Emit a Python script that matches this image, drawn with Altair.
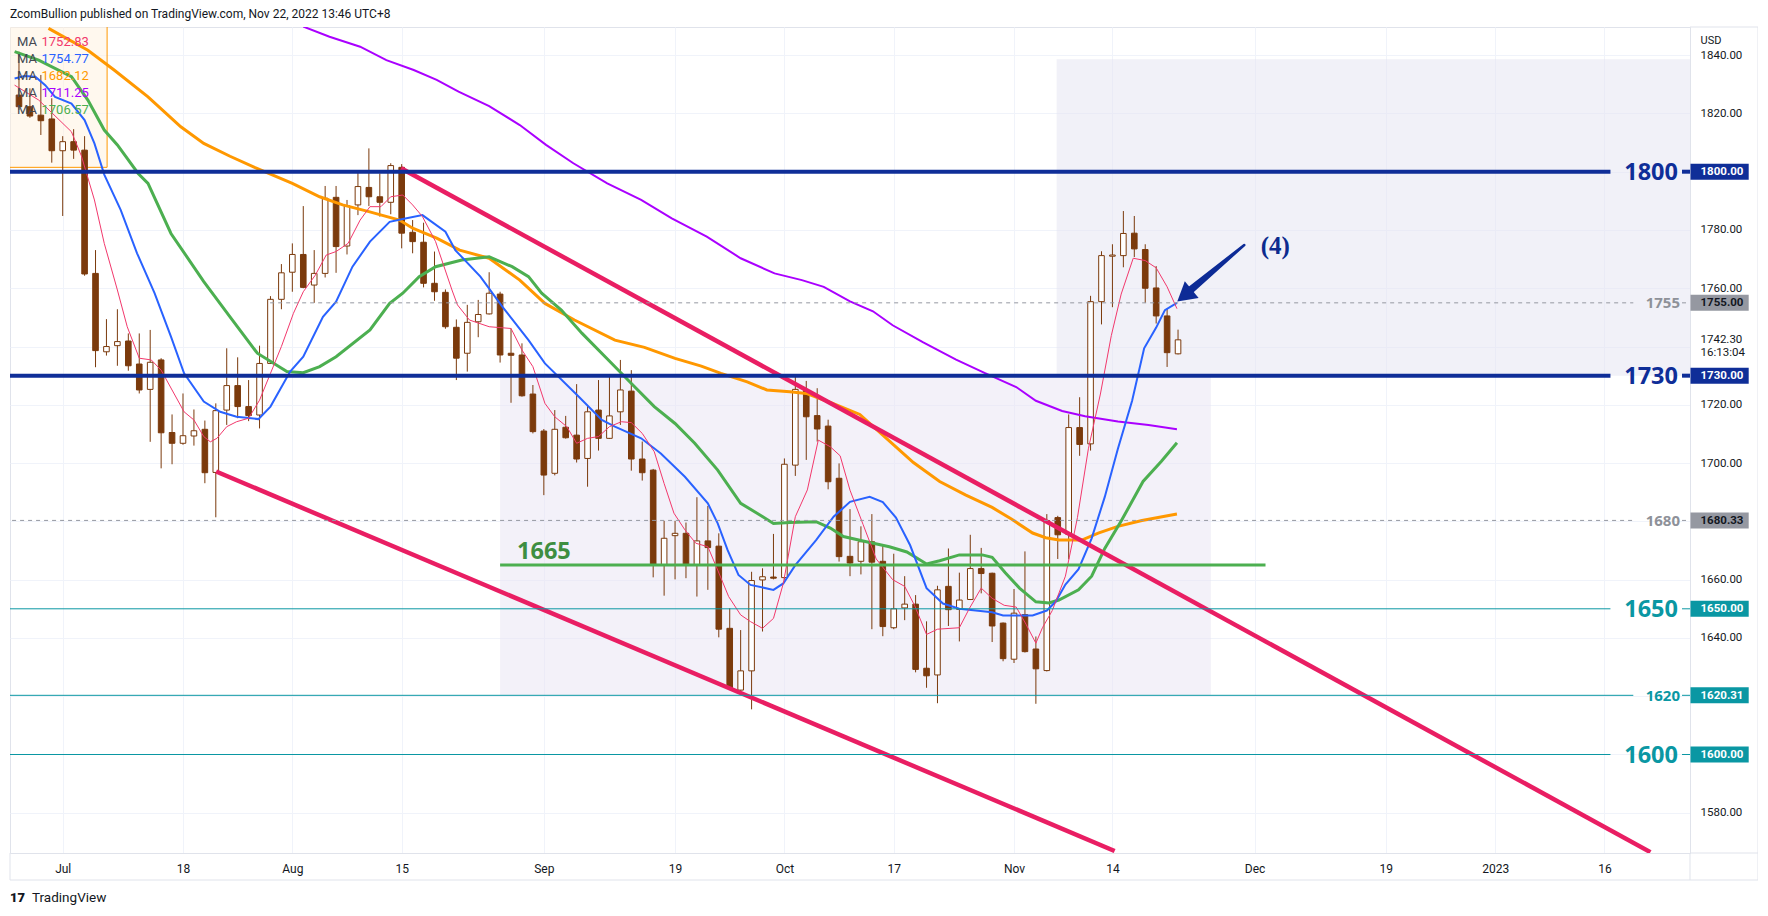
import altair as alt
import pandas as pd

# ---------------- values ----------------
# bar index: 0 = 1 Jul 2022, one step per trading day (weekends skipped)
bar_idx = list(range(-4, 103))
opens = [1826.3, 1822.3, 1819.4, 1818.1, 1807.2, 1810.3, 1807.4, 1765.1, 1738.2, 1740.3,
         1741.9, 1734.0, 1725.3, 1735.4, 1710.5, 1706.8, 1709.3, 1711.6, 1696.8, 1718.2,
         1726.6, 1719.4, 1716.5, 1734.2, 1756.2, 1765.5, 1771.6, 1761.1, 1765.1, 1791.2,
         1774.5, 1788.6, 1794.6, 1791.4, 1789.5, 1801.5, 1779.2, 1775.8, 1761.7, 1758.6,
         1746.6, 1737.7, 1748.5, 1751.2, 1758.0, 1737.7, 1737.1, 1723.7, 1711.0, 1696.5,
         1712.3, 1709.6, 1701.6, 1718.2, 1708.5, 1717.6, 1724.7, 1701.4, 1697.6, 1665.0,
         1675.1, 1675.9, 1665.0, 1673.3, 1671.5, 1643.3, 1622.1, 1628.7, 1659.9, 1660.9,
         1660.7, 1699.3, 1725.1, 1716.3, 1712.7, 1694.8, 1668.0, 1666.3, 1673.0, 1666.3,
         1643.5, 1650.3, 1651.6, 1629.6, 1627.3, 1657.7, 1649.8, 1653.2, 1663.8, 1662.2,
         1645.1, 1632.7, 1648.0, 1636.2, 1628.8, 1681.3, 1675.5, 1712.2, 1706.6, 1755.4,
         1771.0, 1771.2, 1778.9, 1773.3, 1760.1, 1750.5, 1737.5]
highs = [1841.2, 1828.6, 1833.2, 1825.2, 1812.2, 1814.6, 1812.2, 1773.1, 1749.4, 1752.8,
         1744.5, 1744.5, 1745.7, 1736.0, 1716.7, 1723.9, 1718.4, 1714.6, 1720.5, 1739.4,
         1736.3, 1728.5, 1740.3, 1757.3, 1768.3, 1775.4, 1788.2, 1773.1, 1795.1, 1795.1,
         1790.3, 1799.7, 1808.0, 1799.4, 1802.9, 1802.6, 1783.4, 1782.5, 1772.6, 1759.6,
         1749.3, 1754.3, 1756.0, 1765.5, 1758.8, 1746.2, 1741.1, 1726.8, 1711.7, 1718.2,
         1716.2, 1727.1, 1719.7, 1728.5, 1729.9, 1735.4, 1731.9, 1707.4, 1698.0, 1680.2,
         1680.2, 1679.6, 1688.3, 1685.3, 1675.9, 1650.2, 1642.7, 1662.7, 1663.9, 1675.7,
         1701.6, 1729.7, 1728.2, 1725.7, 1714.9, 1699.9, 1684.2, 1678.3, 1682.5, 1671.9,
         1668.9, 1661.2, 1654.7, 1645.7, 1657.9, 1670.7, 1662.4, 1675.4, 1670.9, 1662.4,
         1645.3, 1656.8, 1669.7, 1640.5, 1682.5, 1681.9, 1716.7, 1722.6, 1757.4, 1772.7,
         1775.1, 1786.5, 1784.8, 1775.1, 1767.6, 1753.0, 1745.8]
lows = [1821.2, 1818.5, 1812.6, 1803.1, 1784.8, 1804.4, 1764.3, 1732.9, 1736.9, 1733.4,
        1731.7, 1723.9, 1707.3, 1698.2, 1699.6, 1706.3, 1706.0, 1693.1, 1681.4, 1713.1,
        1715.4, 1714.4, 1711.9, 1734.0, 1752.8, 1758.8, 1760.0, 1755.0, 1763.7, 1765.3,
        1771.6, 1785.1, 1788.2, 1784.6, 1785.4, 1773.7, 1772.0, 1760.3, 1755.7, 1746.1,
        1728.5, 1731.4, 1743.2, 1751.0, 1734.5, 1720.7, 1722.8, 1710.2, 1689.0, 1695.8,
        1708.4, 1700.2, 1691.9, 1704.3, 1708.3, 1713.1, 1697.4, 1694.0, 1660.8, 1654.5,
        1660.1, 1660.5, 1654.2, 1656.5, 1640.2, 1622.1, 1621.8, 1615.5, 1642.2, 1660.1,
        1660.0, 1695.6, 1701.1, 1707.4, 1691.0, 1666.2, 1661.2, 1661.8, 1643.0, 1640.6,
        1643.0, 1646.1, 1628.2, 1622.9, 1617.6, 1644.1, 1638.8, 1653.0, 1655.3, 1638.6,
        1632.0, 1631.4, 1635.0, 1617.4, 1628.5, 1667.1, 1667.0, 1702.5, 1704.3, 1747.6,
        1753.5, 1767.2, 1770.7, 1755.0, 1747.9, 1733.0, 1737.3]
closes = [1822.3, 1819.1, 1817.5, 1807.2, 1810.3, 1807.4, 1764.9, 1738.6, 1740.0, 1741.7,
          1733.4, 1725.1, 1734.6, 1710.4, 1706.8, 1709.4, 1711.1, 1696.7, 1718.0, 1726.6,
          1719.4, 1716.3, 1734.2, 1756.2, 1765.3, 1771.6, 1760.3, 1765.1, 1790.9, 1774.3,
          1788.3, 1794.9, 1791.4, 1789.5, 1802.1, 1778.9, 1776.0, 1761.7, 1758.8, 1746.8,
          1736.0, 1748.3, 1751.0, 1758.3, 1737.1, 1737.0, 1723.1, 1710.8, 1695.9, 1711.6,
          1708.7, 1701.4, 1717.6, 1708.5, 1716.2, 1725.1, 1701.4, 1696.7, 1665.0, 1674.2,
          1675.9, 1665.0, 1673.3, 1671.0, 1643.0, 1622.7, 1628.7, 1659.7, 1661.0, 1660.5,
          1699.6, 1725.3, 1715.9, 1711.7, 1693.6, 1667.9, 1665.7, 1673.0, 1666.0, 1643.9,
          1650.0, 1651.6, 1629.2, 1627.0, 1656.5, 1649.7, 1653.0, 1663.8, 1662.1, 1644.1,
          1632.9, 1648.5, 1635.3, 1629.4, 1680.3, 1675.4, 1712.2, 1706.4, 1755.4, 1771.2,
          1771.4, 1778.8, 1773.5, 1760.0, 1750.5, 1737.9, 1742.3]

tick_idx = [0, 11, 21, 31, 44, 56, 66, 76, 87, 96, 109, 121, 131, 141]
tick_lab = ["Jul", "18", "Aug", "15", "Sep", "19", "Oct", "17", "Nov", "14", "Dec", "19", "2023", "16"]

price_ticks = list(range(1580, 1841, 20))
hidden_ticks = [1600, 1620, 1680, 1740, 1800]

# moving averages (index, value)
pink_i = [-4.4, -2.2, 0.8, 1.7, 2.9, 3.8, 5.0, 5.9, 7.0, 8.1, 9.0, 11.1, 12.0, 12.9, 13.5, 14.1,
          15.0, 15.9, 17.0, 18.0, 19.0, 20.0, 21.1, 22.0, 23.1, 24.1, 25.0, 26.1, 27.2, 28.1,
          29.1, 30.0, 31.1, 32.0, 32.9, 34.1, 35.6, 36.1, 37.2, 39.0, 41.0, 42.0, 43.0, 44.1,
          45.0, 46.1, 47.0, 48.0, 49.0, 50.0, 51.1, 52.0, 53.0, 54.1, 55.0, 55.9, 56.9, 57.9,
          59.0, 59.9, 60.9, 62.0, 62.9, 64.0, 65.0, 65.9, 67.0, 68.1, 69.1, 70.2, 71.1, 72.0,
          73.2, 74.4, 75.9, 77.0, 77.9, 79.0, 80.0, 82.0, 82.9, 84.0, 85.0, 86.1, 87.2, 88.1,
          89.0, 89.6, 90.5, 91.7, 92.8, 93.8, 94.9, 95.9, 96.8, 97.9, 99.0, 100.0, 101.0, 101.9]
pink_v = [1829.7, 1824.6, 1813.7, 1805.5, 1790.3, 1775.4, 1759.4, 1746.8, 1736.0, 1735.4, 1731.9,
          1717.6, 1714.8, 1709.1, 1707.3, 1708.5, 1712.5, 1714.2, 1715.4, 1721.6, 1730.8, 1740.0,
          1751.4, 1758.8, 1764.5, 1771.4, 1772.6, 1775.4, 1783.4, 1788.0, 1788.0, 1791.4, 1792.0,
          1788.6, 1784.6, 1776.0, 1759.4, 1754.3, 1749.1, 1746.8, 1746.2, 1738.8, 1733.1, 1720.5,
          1715.9, 1712.5, 1706.8, 1708.5, 1709.1, 1712.5, 1714.2, 1713.9, 1710.2, 1703.9, 1693.0,
          1682.8, 1677.1, 1672.5, 1671.3, 1663.3, 1654.2, 1647.9, 1645.6, 1643.3, 1646.7, 1658.7,
          1681.6, 1690.8, 1707.9, 1705.6, 1702.5, 1690.7, 1678.9, 1667.1, 1660.0, 1657.7, 1651.2,
          1641.2, 1643.0, 1643.5, 1650.0, 1657.1, 1653.6, 1651.2, 1650.6, 1644.7, 1638.2, 1643.5,
          1649.4, 1661.2, 1681.3, 1704.9, 1723.7, 1743.8, 1758.0, 1770.3, 1769.5, 1767.0, 1760.5,
          1753.0]
blue_i = [-4.4, -3.5, -2.5, -1.6, -0.7, 0.8, 2.0, 2.9, 3.8, 5.3, 6.8, 8.4, 9.9, 11.1, 12.9, 14.4,
          15.9, 17.9, 19.0, 20.8, 22.0, 23.8, 25.0, 26.5, 28.1, 29.9, 31.1, 32.9, 35.0, 35.9,
          38.2, 40.2, 42.6, 44.1, 47.2, 49.3, 50.5, 52.9, 54.7, 56.9, 59.0, 59.9, 60.8, 61.8,
          62.9, 65.0, 65.9, 67.0, 68.9, 70.5, 72.0, 73.8, 75.0, 76.2, 77.5, 79.0, 80.5, 82.0,
          85.0, 86.0, 88.7, 90.0, 90.8, 91.7, 92.9, 94.1, 95.3, 96.5, 97.8, 98.9, 100.0, 100.8,
          101.9]
blue_v = [1832.0, 1832.8, 1832.6, 1829.7, 1825.7, 1823.4, 1817.7, 1809.7, 1799.0, 1786.9, 1772.0,
          1758.3, 1743.4, 1730.8, 1721.1, 1717.6, 1715.9, 1715.1, 1719.4, 1731.4, 1736.5, 1750.2,
          1755.4, 1767.4, 1776.0, 1782.8, 1783.8, 1785.1, 1779.4, 1773.1, 1764.0, 1753.7, 1742.2,
          1734.2, 1722.8, 1714.8, 1712.5, 1708.5, 1703.3, 1695.3, 1686.2, 1679.3, 1670.2, 1661.6,
          1658.2, 1656.5, 1658.7, 1665.0, 1673.6, 1681.6, 1686.7, 1688.4, 1686.6, 1681.3, 1671.8,
          1657.1, 1651.8, 1650.0, 1648.8, 1647.7, 1647.7, 1649.4, 1652.4, 1658.3, 1663.6, 1674.2,
          1688.4, 1704.9, 1721.4, 1739.4, 1746.5, 1752.5, 1755.0]
green_i = [-4.4, -2.2, 0.8, 2.3, 3.8, 5.0, 6.9, 7.8, 9.9, 12.9, 15.3, 17.8, 20.5, 22.0, 23.5, 25.0,
           28.1, 29.9, 31.1, 32.6, 34.1, 36.5, 39.0, 41.1, 42.6, 43.8, 45.6, 47.5, 49.9, 52.3,
           54.1, 56.0, 57.8, 59.9, 62.0, 63.5, 65.0, 66.5, 68.9, 70.2, 71.4, 73.5, 75.6, 77.2,
           79.0, 80.2, 82.0, 84.1, 85.0, 86.2, 87.5, 89.0, 90.2, 91.1, 92.9, 94.1, 95.3, 96.8,
           98.8, 100.5, 101.9]
green_v = [1841.2, 1838.3, 1832.6, 1824.6, 1814.3, 1809.2, 1799.4, 1796.0, 1778.8, 1762.3, 1750.2,
           1737.7, 1731.4, 1731.0, 1733.1, 1736.5, 1745.7, 1754.8, 1758.3, 1764.0, 1767.4, 1769.7,
           1770.8, 1767.4, 1764.0, 1758.3, 1752.5, 1744.5, 1735.4, 1726.2, 1719.4, 1713.6, 1706.8,
           1697.6, 1686.2, 1682.8, 1679.3, 1679.6, 1679.9, 1677.7, 1674.8, 1673.0, 1671.3, 1669.5,
           1665.4, 1666.5, 1668.5, 1668.5, 1667.7, 1662.4, 1657.1, 1652.4, 1652.0, 1653.0, 1656.5,
           1661.2, 1670.7, 1680.1, 1693.7, 1700.7, 1707.0]
orange_i = [-1.3, 2.3, 4.7, 7.8, 10.8, 12.9, 15.3, 17.6, 21.0, 23.5, 25.6, 28.0, 30.8, 32.0, 34.2,
            36.3, 39.0, 41.8, 44.1, 46.8, 50.5, 53.2, 56.0, 58.4, 60.2, 62.6, 64.4, 66.5, 68.0,
            70.2, 72.9, 75.0, 77.8, 80.2, 82.6, 85.0, 86.8, 88.7, 89.9, 91.1, 93.2, 94.7, 96.5,
            98.7, 101.9]
orange_v = [1849.2, 1841.7, 1834.9, 1825.7, 1815.4, 1809.7, 1805.3, 1801.4, 1796.0, 1791.4, 1788.6,
            1786.3, 1783.4, 1780.6, 1777.2, 1773.1, 1770.3, 1762.8, 1754.8, 1749.1, 1742.2, 1739.7,
            1735.95, 1733.3, 1730.8, 1727.9, 1725.1, 1724.5, 1723.9, 1720.8, 1716.7, 1709.6,
            1700.2, 1693.7, 1689.0, 1684.8, 1680.7, 1676.0, 1674.4, 1673.6, 1673.6, 1676.0,
            1678.3, 1680.3, 1682.5]
purple_i = [22.0, 24.4, 27.2, 29.6, 32.1, 34.2, 36.2, 39.0, 41.8, 44.2, 46.7, 49.8, 52.9, 55.7,
            58.9, 62.0, 65.1, 67.6, 69.6, 72.0, 74.1, 75.9, 78.7, 81.7, 84.4, 87.2, 89.0, 91.4,
            93.5, 96.5, 99.3, 101.9]
purple_v = [1849.8, 1846.3, 1842.9, 1838.3, 1834.9, 1831.5, 1827.5, 1822.5, 1816.0, 1809.2, 1802.9,
            1796.0, 1790.3, 1784.0, 1777.7, 1770.3, 1765.1, 1762.8, 1760.5, 1755.5, 1752.1, 1747.3,
            1741.4, 1735.5, 1730.8, 1726.1, 1721.4, 1717.9, 1716.1, 1714.3, 1713.1, 1711.6]

ma_last = ["1752.83", "1754.77", "1682.12", "1711.25", "1706.57"]

# drawn trend lines (start index, start price, end index, end price)
trend_i0 = [30.94, 14.03]
trend_v0 = [1801.2, 1697.1]
trend_i1 = [145.2, 96.2]
trend_v1 = [1566.5, 1566.9]

# shaded zones: top-left box, upper-right box, lower box
zone_i0 = [-8.0, 90.9, 40.0]
zone_i1 = [4.06, 160.0, 105.0]
zone_lo = [1801.5, 1730.0, 1620.31]
zone_hi = [1860.0, 1838.6, 1730.0]

# horizontal levels
blue_levels = [1800.0, 1730.0]
teal_levels = [1650.0, 1620.31, 1600.0]
grey_levels = [1755.0, 1680.33]
green_level = 1665.0
green_level_from, green_level_to = 40.0, 110.0
dashed_1755_from = 18.97

big_label_vals = [1800.0, 1730.0, 1650.0, 1600.0]
big_label_txt = ["1800", "1730", "1650", "1600"]
small_label_vals = [1620.31, 1755.0, 1680.33]
small_label_txt = ["1620", "1755", "1680"]
box_vals = [1800.0, 1730.0, 1755.0, 1680.33, 1650.0, 1620.31, 1600.0]
box_txt = ["1800.00", "1730.00", "1755.00", "1680.33", "1650.00", "1620.31", "1600.00"]
last_price = 1742.30

# arrow "(4)"
arrow_i = [108.06, 103.1]
arrow_v = [1774.85, 1759.3]
arrow_tip_i, arrow_tip_v = 102.59, 1757.5
label4_i, label4_v = 110.9, 1774.6

# ---------------- geometry (page pixels -> data) ----------------
PX_I0, PX_BAR = 58.0, 11.0
PY_REF, V_REF, PX_USD = 171.7, 1800.0, 2.914


def idx_at(px):
    return (px - PX_I0) / PX_BAR


def usd_at(py):
    return V_REF - (py - PY_REF) / PX_USD


W, H = 1680, 826
X_MIN, X_MAX = idx_at(10), idx_at(1690)
Y_MIN, Y_MAX = usd_at(853), usd_at(27)

BROWN = "#7B3A0C"
TEXT = "#131722"
LVL_BLUE = "#0F2E98"
TEAL = "#0A97A3"
GREY = "#9598A1"
GREEN = "#4CAF50"
TREND = "#E91E63"
FONT = "Roboto"

xscale = alt.Scale(domain=[X_MIN, X_MAX], nice=False, zero=False)
yscale = alt.Scale(domain=[Y_MIN, Y_MAX], nice=False, zero=False)
x_expr = " : ".join(f"datum.value == {t} ? '{l}'" for t, l in zip(tick_idx, tick_lab)) + " : ''"
xaxis = alt.Axis(values=tick_idx, labelExpr=x_expr, grid=True, gridColor="#F0F3FA", ticks=False,
                 domainColor="#E0E3EB", labelPadding=15, labelBaseline="middle", labelFont=FONT,
                 labelFontSize=12, labelColor=TEXT, labelOverlap=False, labelFlush=False, title="")
y_expr = f"indexof({hidden_ticks}, datum.value) >= 0 ? '' : format(datum.value, '.2f')"
yaxis = alt.Axis(orient="right", values=price_ticks, labelExpr=y_expr, grid=True, gridColor="#F0F3FA",
                 ticks=False, domainColor="#E0E3EB", labelPadding=10, labelAlign="left",
                 labelBaseline="middle", labelFont=FONT, labelFontSize=11.5, labelColor=TEXT,
                 labelOverlap=False, labelFlush=False, title="")


def X(f):
    return alt.X(f, type="quantitative", scale=xscale, axis=xaxis)


def Y(f):
    return alt.Y(f, type="quantitative", scale=yscale, axis=yaxis)


one = pd.DataFrame({"k": [0]})
layers = []

# shaded zones
zones = pd.DataFrame({"i0": zone_i0, "i1": zone_i1, "lo": zone_lo, "hi": zone_hi,
                      "fill": ["#FFF1DD", "#E3E3F1", "#E8E4F4"]})
layers.append(alt.Chart(zones).mark_rect(clip=True, opacity=0.5).encode(
    x=X("i0"), x2="i1", y=Y("lo"), y2="hi", fill=alt.Fill("fill:N", scale=None)))
layers.append(alt.Chart(zones.iloc[[0]]).mark_rect(clip=True, fillOpacity=0, stroke="#FF9800",
                                                  strokeWidth=1).encode(
    x=X("i0"), x2="i1", y=Y("lo"), y2="hi"))

# candles
cand = pd.DataFrame({"i": bar_idx, "o": opens, "h": highs, "l": lows, "c": closes})
cand["fill"] = ["#ffffff" if c >= o else BROWN for o, c in zip(cand.o, cand.c)]
layers.append(alt.Chart(cand).mark_rule(color=BROWN, strokeWidth=1, clip=True).encode(
    x=X("i"), y=Y("l"), y2="h"))
layers.append(alt.Chart(cand).mark_bar(size=5.6, stroke=BROWN, strokeWidth=1, clip=True).encode(
    x=X("i"), y=Y("o"), y2="c", fill=alt.Fill("fill:N", scale=None)))

# moving averages
for xs, vs, col, sw in [(orange_i, orange_v, "#FF9800", 3), (purple_i, purple_v, "#AA00FF", 2),
                        (green_i, green_v, "#4CAF50", 3), (blue_i, blue_v, "#2962FF", 2),
                        (pink_i, pink_v, "#F2386C", 1)]:
    d = pd.DataFrame({"i": xs, "v": vs})
    layers.append(alt.Chart(d).mark_line(color=col, strokeWidth=sw, clip=True).encode(
        x=X("i"), y=Y("v"), order="i"))

# trend lines
tr = pd.DataFrame({"i": trend_i0 + trend_i1, "v": trend_v0 + trend_v1, "g": [0, 1, 0, 1]})
layers.append(alt.Chart(tr).mark_line(color=TREND, strokeWidth=4.5, clip=True).encode(
    x=X("i"), y=Y("v"), detail="g:N"))

# horizontal levels (broken around their right-hand labels)
gap_big = (idx_at(1615), idx_at(1687))
gap_small = (idx_at(1638), idx_at(1687))


def segs(vals, starts, gaps):
    rows = []
    for v, s, g in zip(vals, starts, gaps):
        rows.append({"v": v, "a": s, "b": g[0]})
        rows.append({"v": v, "a": g[1], "b": X_MAX + 1})
    return pd.DataFrame(rows)


blue_seg = segs(blue_levels, [X_MIN - 1] * 2, [gap_big] * 2)
teal_seg = segs(teal_levels, [X_MIN - 1] * 3, [gap_big, gap_small, gap_big])
grey_seg = segs(grey_levels, [dashed_1755_from, X_MIN - 1], [gap_small] * 2)
green_seg = pd.DataFrame({"v": [green_level], "a": [green_level_from], "b": [green_level_to]})
layers.append(alt.Chart(grey_seg).mark_rule(color=GREY, strokeWidth=1, strokeDash=[4, 4], clip=True).encode(
    x=X("a"), x2="b", y=Y("v")))
layers.append(alt.Chart(teal_seg).mark_rule(color=TEAL, strokeWidth=1, clip=True).encode(
    x=X("a"), x2="b", y=Y("v")))
layers.append(alt.Chart(green_seg).mark_rule(color=GREEN, strokeWidth=3, clip=True).encode(
    x=X("a"), x2="b", y=Y("v")))
layers.append(alt.Chart(blue_seg).mark_rule(color=LVL_BLUE, strokeWidth=4, clip=True).encode(
    x=X("a"), x2="b", y=Y("v")))

# level labels
big = pd.DataFrame({"v": big_label_vals, "t": big_label_txt,
                    "col": [LVL_BLUE, LVL_BLUE, TEAL, TEAL]})
layers.append(alt.Chart(big).mark_text(align="right", baseline="alphabetic", dy=8, fontSize=23.5,
                                       fontWeight="bold", font="Noto Sans").encode(
    x=alt.value(1668), y=Y("v"), text="t:N", color=alt.Color("col:N", scale=None)))
small = pd.DataFrame({"v": small_label_vals, "t": small_label_txt, "col": [TEAL, "#8E9199", "#8E9199"]})
layers.append(alt.Chart(small).mark_text(align="right", baseline="alphabetic", dy=5.5, fontSize=15,
                                         fontWeight="bold", font="Noto Sans").encode(
    x=alt.value(1670), y=Y("v"), text="t:N", color=alt.Color("col:N", scale=None)))
g1665 = pd.DataFrame({"i": [idx_at(515)], "v": [usd_at(559.3)], "t": ["1665"]})
layers.append(alt.Chart(g1665).mark_text(align="left", baseline="alphabetic", fontSize=23.5,
                                         fontWeight="bold", font="Noto Sans", color="#3E8E41").encode(
    x=X("i"), y=Y("v"), text="t:N"))

# price-axis tags
boxes = pd.DataFrame({"v": box_vals, "t": box_txt,
                      "bg": [LVL_BLUE, LVL_BLUE, GREY, GREY, TEAL, TEAL, TEAL],
                      "fg": ["white", "white", TEXT, TEXT, "white", "white", "white"]})
layers.append(alt.Chart(boxes).mark_rect(yOffset=-8, y2Offset=8).encode(
    x=alt.value(1680.5), x2=alt.value(1738.7), y=Y("v"), y2="v", fill=alt.Fill("bg:N", scale=None)))
layers.append(alt.Chart(boxes).mark_text(align="left", baseline="middle", fontSize=11.5,
                                         fontWeight="bold", font=FONT, dy=0.5).encode(
    x=alt.value(1690.5), y=Y("v"), text="t:N", color=alt.Color("fg:N", scale=None)))
lp = pd.DataFrame({"v": [last_price], "t": [f"{last_price:.2f}"]})
layers.append(alt.Chart(lp).mark_text(align="left", baseline="middle", fontSize=11.5, font=FONT,
                                      color=TEXT).encode(x=alt.value(1690.5), y=Y("v"), text="t:N"))
layers.append(alt.Chart(lp).mark_text(align="left", baseline="middle", fontSize=11.5, font=FONT,
                                      color=TEXT, dy=13.5, text="16:13:04").encode(
    x=alt.value(1690.5), y=Y("v")))

# arrow and "(4)"
arr = pd.DataFrame({"i": arrow_i, "v": arrow_v, "w": [2.5, 7.5]})
layers.append(alt.Chart(arr).mark_trail(color="#0D2B96").encode(
    x=X("i"), y=Y("v"), size=alt.Size("w:Q", scale=None, legend=None), order="i"))
tip = pd.DataFrame({"i": [arrow_tip_i], "v": [arrow_tip_v]})
layers.append(alt.Chart(tip).mark_point(shape="triangle-up", filled=True, size=470, angle=230.4,
                                        color="#0D2B96", opacity=1).encode(x=X("i"), y=Y("v")))
l4 = pd.DataFrame({"i": [label4_i], "v": [label4_v], "t": ["(4)"]})
layers.append(alt.Chart(l4).mark_text(align="center", baseline="middle", fontSize=25, fontWeight="bold",
                                      font="Liberation Serif", color="#0D2B8E").encode(
    x=X("i"), y=Y("v"), text="t:N"))

# legend of the moving averages
ma_cols = ["#F2386C", "#2962FF", "#FF9800", "#AA00FF", "#4CAF50"]
for r, (val, col) in enumerate(zip(ma_last, ma_cols)):
    yy = 14.7 + r * 17.1
    layers.append(alt.Chart(one).mark_text(align="left", baseline="middle", fontSize=13, font=FONT,
                                           color="#444851", text="MA").encode(
        x=alt.value(7), y=alt.value(yy)))
    layers.append(alt.Chart(one).mark_text(align="left", baseline="middle", fontSize=13, font=FONT,
                                           color=col, text=val).encode(
        x=alt.value(31.5), y=alt.value(yy)))

# header, footer, currency
layers.append(alt.Chart(one).mark_text(align="left", baseline="middle", fontSize=12, font=FONT, color=TEXT,
                                       text="ZcomBullion published on TradingView.com, Nov 22, 2022 13:46 UTC+8").encode(
    x=alt.value(0), y=alt.value(-13)))
layers.append(alt.Chart(one).mark_text(align="left", baseline="middle", fontSize=13, font=FONT,
                                       fontWeight=900, color=TEXT, text="17").encode(
    x=alt.value(0), y=alt.value(871)))
layers.append(alt.Chart(one).mark_text(align="left", baseline="middle", fontSize=13.5, font=FONT,
                                       color=TEXT, text="TradingView").encode(
    x=alt.value(22), y=alt.value(871)))
layers.append(alt.Chart(one).mark_text(align="left", baseline="middle", fontSize=11, font=FONT,
                                       color=TEXT, text="USD").encode(
    x=alt.value(1690.5), y=alt.value(13.5)))

# outer frame pieces outside the plot area
frame = pd.DataFrame({"x": [1680, 0, 0, 1748, 1680, 1680], "x2": [1748, 1748, 0, 1748, 1748, 1680],
                      "y": [826, 853, 826, 0, 0, 826], "y2": [826, 853, 853, 853, 0, 853]})
layers.append(alt.Chart(frame).mark_rule(color="#E0E3EB", strokeWidth=1).encode(
    x=alt.X("x:Q", scale=None), x2="x2:Q", y=alt.Y("y:Q", scale=None), y2="y2:Q"))

chart = alt.layer(*layers).properties(
    width=W, height=H,
    padding={"left": 2, "top": 19, "right": 68, "bottom": 54},
    autosize=alt.AutoSizeParams(type="none"),
    background="white",
).configure_view(stroke="#E0E3EB")

chart.save("out.html", embed_options={"renderer": "svg", "actions": False})
